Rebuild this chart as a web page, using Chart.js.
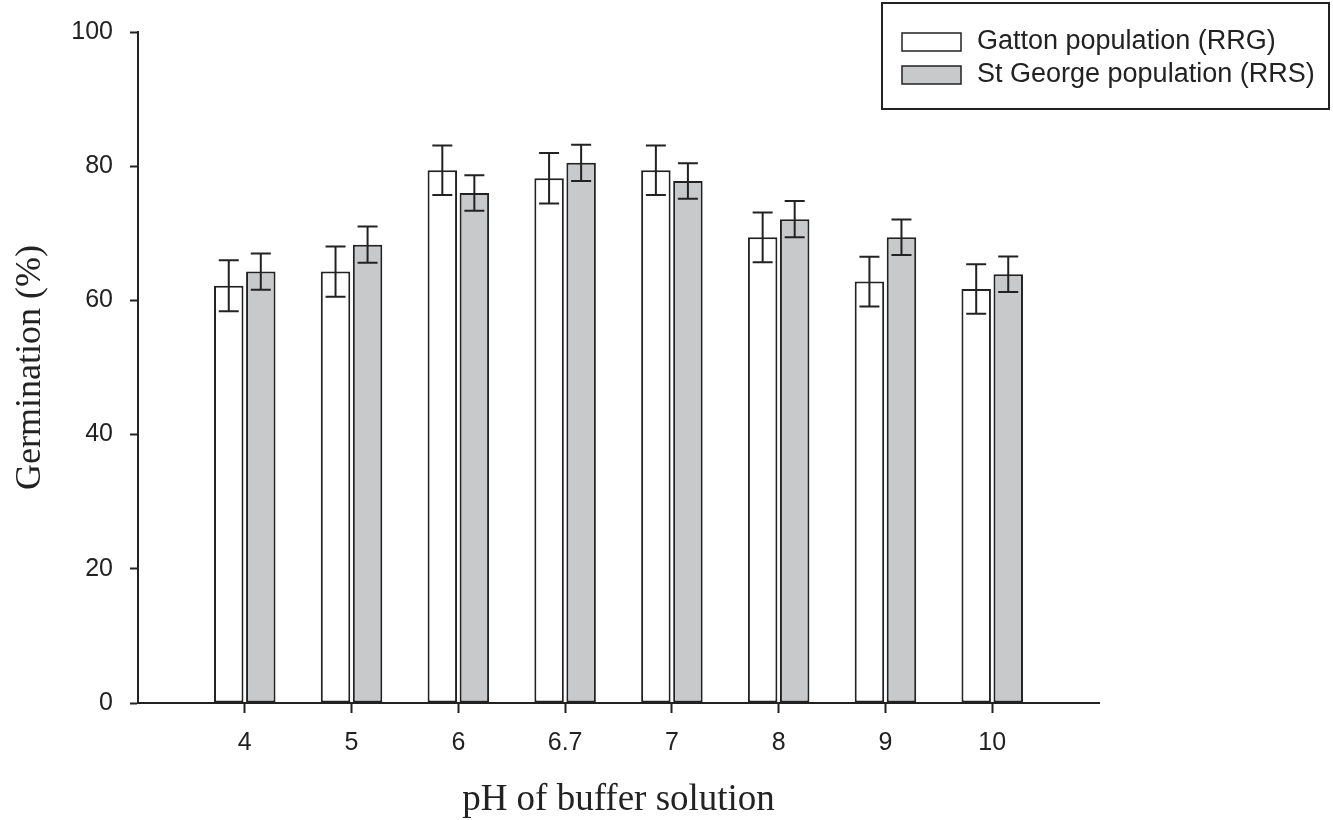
<!DOCTYPE html>
<html>
<head>
<meta charset="utf-8">
<script src="https://cdn.jsdelivr.net/npm/chart.js@4/dist/chart.umd.min.js"></script>
<style>
  body { margin: 0; background: #fff; }
  #wrap { width: 1333px; height: 820px; }
</style>
</head>
<body>
<div id="wrap"><canvas id="germChart" width="1333" height="820"></canvas></div>
<script>
// ── DATA ──────────────────────────────────────────────
const phLabels      = ['4', '5', '6', '6.7', '7', '8', '9', '10'];
const gattonValues  = [62.2, 64.3, 79.4, 78.2, 79.4, 69.4, 62.8, 61.7];
const gattonErr     = [3.8, 3.75, 3.7, 3.75, 3.7, 3.7, 3.7, 3.7];
const georgeValues  = [64.3, 68.3, 76.0, 80.5, 77.8, 72.1, 69.4, 63.9];
const georgeErr     = [2.7, 2.7, 2.65, 2.7, 2.65, 2.7, 2.65, 2.65];
const yTicks        = [0, 20, 40, 60, 80, 100];

const INK = '#222222';
const GREY = '#c8c9cb';
const SANS = '"Liberation Sans", Arial, sans-serif';
const SERIF = '"Liberation Serif", "Times New Roman", serif';

// error bars drawn through the y scale
const errorBars = {
    id: 'errorBars',
    afterDatasetsDraw(chart) {
        const { ctx, scales: { y } } = chart;
        ctx.save();
        ctx.strokeStyle = INK;
        ctx.lineWidth = 2;
        chart.data.datasets.forEach((ds, di) => {
            const meta = chart.getDatasetMeta(di);
            meta.data.forEach((bar, i) => {
                const v = ds.data[i].y, e = ds.errors[i];
                const top = y.getPixelForValue(v + e);
                const bot = y.getPixelForValue(v - e);
                const cap = 10;
                ctx.beginPath();
                ctx.moveTo(bar.x, top); ctx.lineTo(bar.x, bot);
                ctx.moveTo(bar.x - cap, top); ctx.lineTo(bar.x + cap, top);
                ctx.moveTo(bar.x - cap, bot); ctx.lineTo(bar.x + cap, bot);
                ctx.stroke();
            });
        });
        ctx.restore();
    }
};

// boxed legend in the top right corner
const boxLegend = {
    id: 'boxLegend',
    afterDraw(chart) {
        const { ctx } = chart;
        ctx.save();
        ctx.strokeStyle = INK;
        ctx.lineWidth = 2;
        ctx.strokeRect(882, 3, 447, 106);
        ctx.font = '27px ' + SANS;
        ctx.textBaseline = 'middle';
        ctx.textAlign = 'left';
        chart.data.datasets.forEach((ds, i) => {
            const ry = 33 + i * 33;
            ctx.fillStyle = ds.backgroundColor;
            ctx.fillRect(902, ry, 59, 18);
            ctx.lineWidth = 1.5;
            ctx.strokeRect(902, ry, 59, 18);
            ctx.fillStyle = INK;
            ctx.fillText(ds.label, 977, ry + 9);
        });
        ctx.restore();
    }
};

new Chart(document.getElementById('germChart').getContext('2d'), {
    type: 'bar',
    data: {
        datasets: [{
            label: 'Gatton population (RRG)',
            data: gattonValues.map((v, i) => ({ x: i, y: v })),
            errors: gattonErr,
            backgroundColor: '#ffffff',
            borderColor: INK,
            borderWidth: 2,
            borderSkipped: false
        }, {
            label: 'St George population (RRS)',
            data: georgeValues.map((v, i) => ({ x: i, y: v })),
            errors: georgeErr,
            backgroundColor: GREY,
            borderColor: INK,
            borderWidth: 2,
            borderSkipped: false
        }]
    },
    options: {
        responsive: false,
        animation: false,
        barPercentage: 0.92,
        categoryPercentage: 0.6,
        layout: { padding: { top: 31, right: 234, left: 0, bottom: 0 } },
        plugins: { legend: { display: false }, tooltip: { enabled: false } },
        scales: {
            x: {
                type: 'linear',
                min: -1,
                max: 8,
                offset: false,
                afterBuildTicks: s => { s.ticks = phLabels.map((_, i) => ({ value: i })); },
                afterFit: s => { s.height = 117; },
                ticks: {
                    callback: v => phLabels[v],
                    color: INK,
                    padding: 15,
                    font: { family: SANS, size: 25 }
                },
                grid: { offset: false, drawOnChartArea: false, drawTicks: true, tickLength: 10, tickColor: INK, tickWidth: 2 },
                border: { color: INK, width: 2 },
                title: {
                    display: true,
                    text: 'pH of buffer solution',
                    color: INK,
                    font: { family: SERIF, size: 37, lineHeight: 1 },
                    padding: { top: 0, bottom: 1 }
                }
            },
            y: {
                min: 0,
                max: 100,
                afterBuildTicks: s => { s.ticks = yTicks.map(v => ({ value: v })); },
                afterFit: s => { s.width = 138; },
                ticks: {
                    color: INK,
                    padding: 17,
                    font: { family: SANS, size: 25 }
                },
                grid: { drawOnChartArea: false, drawTicks: true, tickLength: 8, tickColor: INK, tickWidth: 2 },
                border: { color: INK, width: 2 },
                title: {
                    display: true,
                    text: 'Germination (%)',
                    color: INK,
                    font: { family: SERIF, size: 36, lineHeight: 1 },
                    padding: { top: 13, bottom: 0 }
                }
            }
        }
    },
    plugins: [errorBars, boxLegend]
});
</script>
</body>
</html>
